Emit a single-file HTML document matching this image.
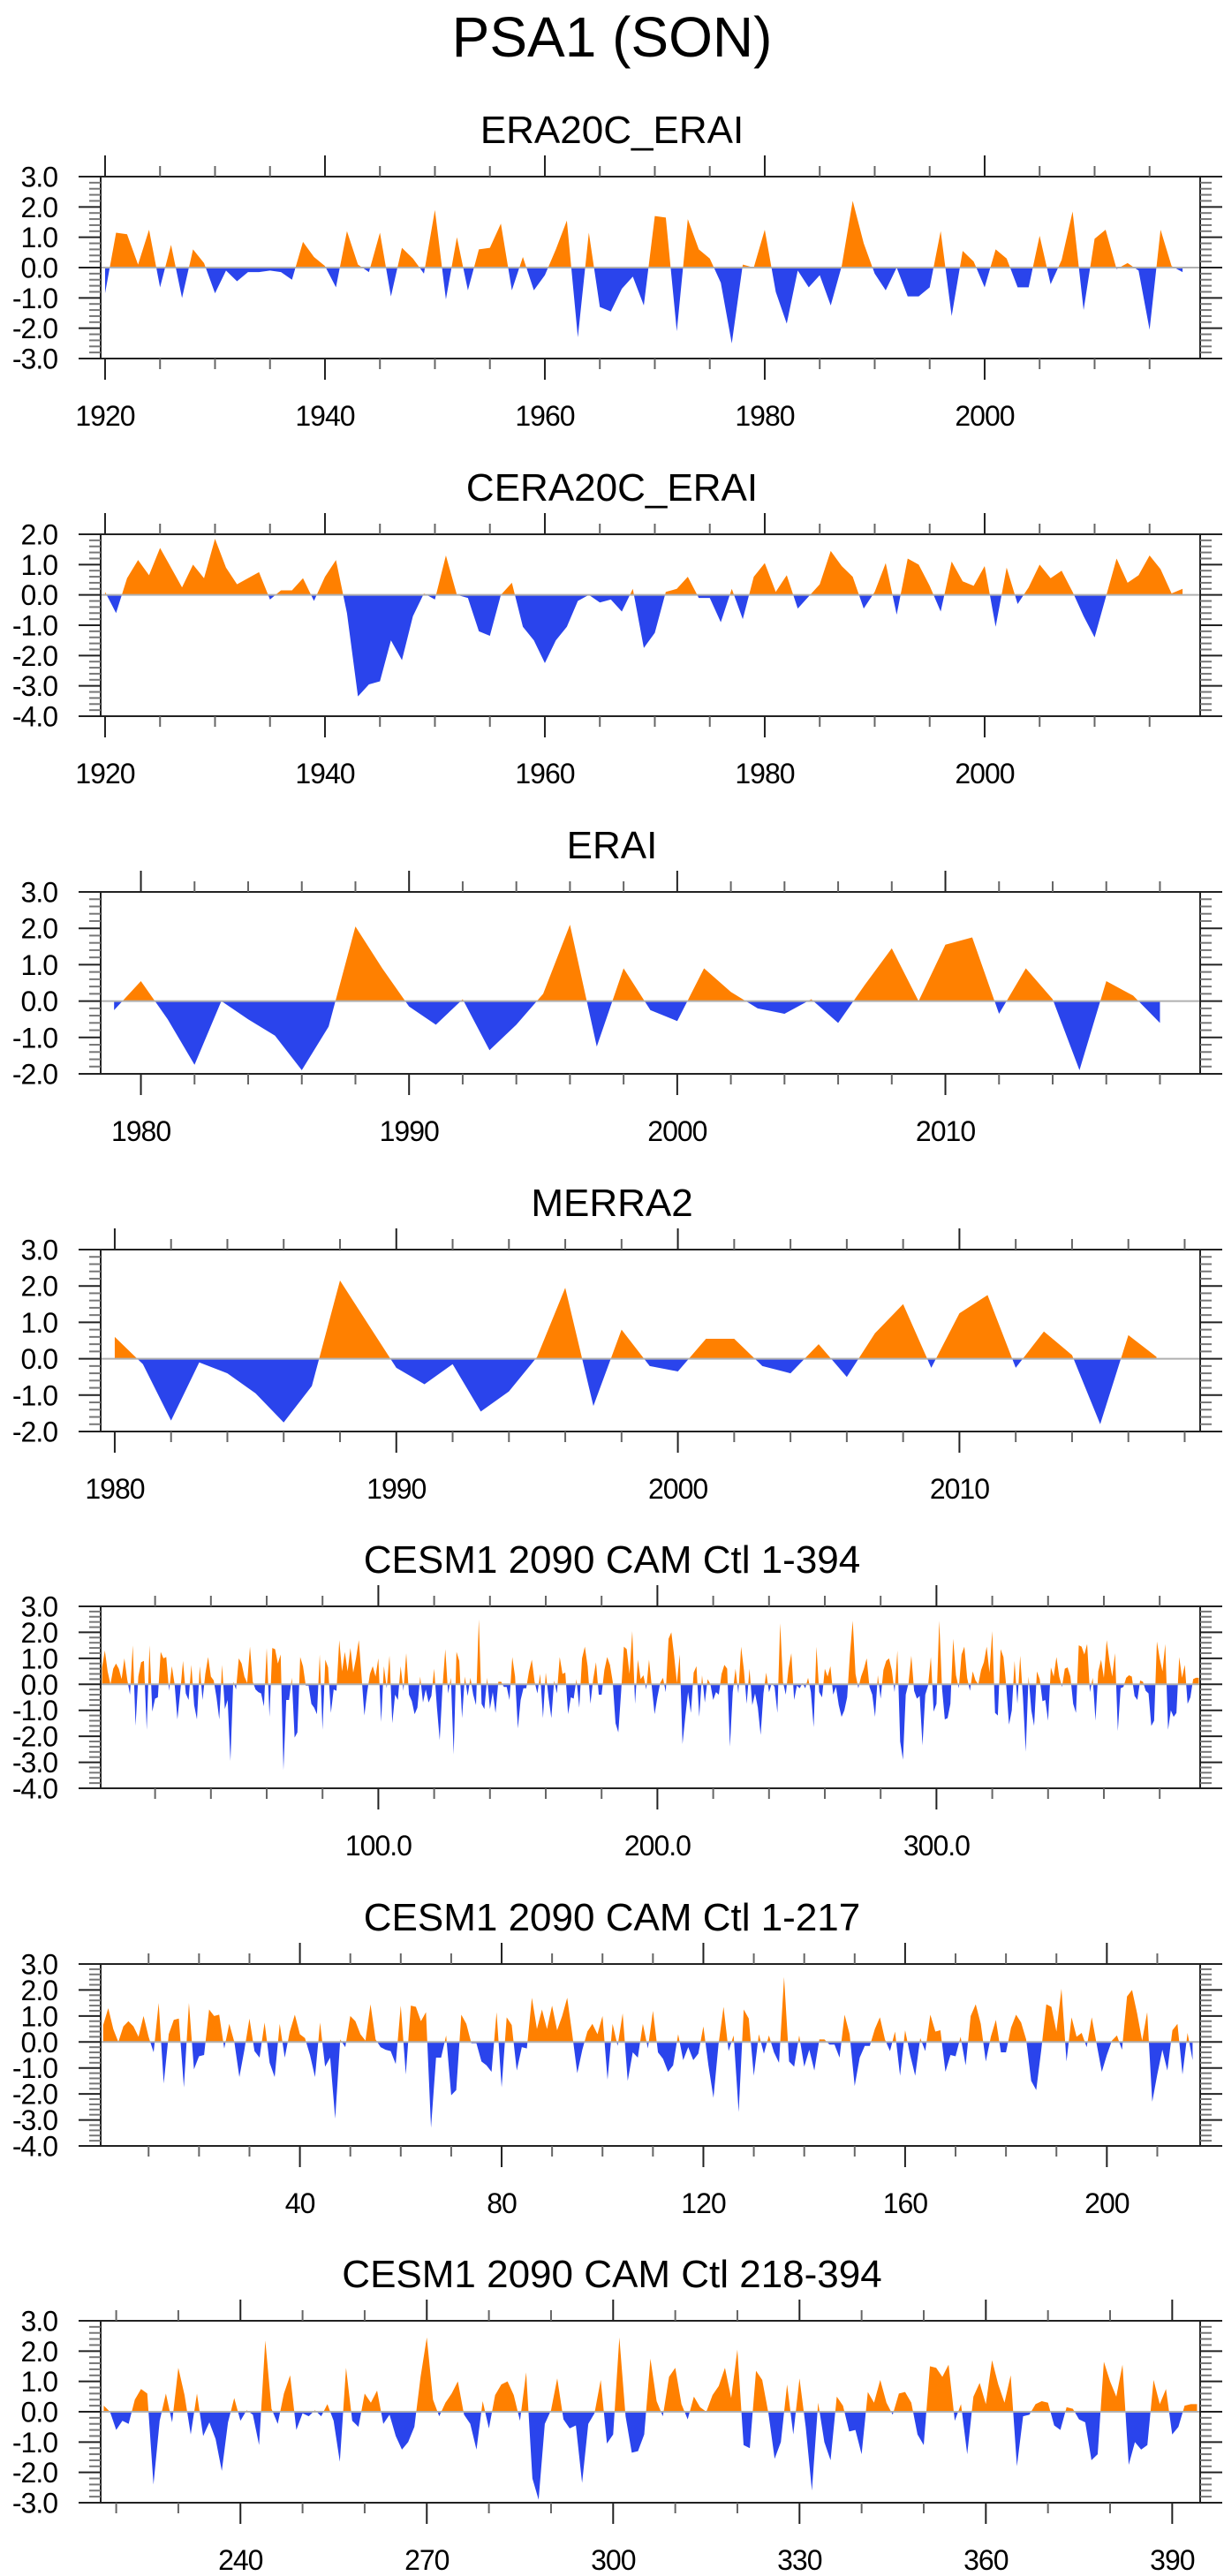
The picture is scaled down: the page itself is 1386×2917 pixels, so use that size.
<!DOCTYPE html>
<html><head><meta charset="utf-8"><title>PSA1 (SON)</title>
<style>html,body{margin:0;padding:0;background:#fff}svg{display:block}text{font-family:"Liberation Sans",sans-serif;fill:#000}</style>
</head><body>
<svg id="fig" width="1386" height="2917" viewBox="0 0 1386 2917" xmlns="http://www.w3.org/2000/svg">
<text x="693" y="64" text-anchor="middle" font-size="64">PSA1 (SON)</text>
</svg>
<script>
// ---- data ----
const era20cVals = [-0.85,1.15,1.1,0.1,1.25,-0.65,0.75,-1.0,0.6,0.15,
-0.85,-0.1,-0.45,-0.15,-0.15,-0.1,-0.15,-0.4,0.85,0.35,
0.05,-0.65,1.2,0.1,-0.15,1.15,-0.95,0.65,0.3,-0.2,
1.9,-1.05,1.0,-0.75,0.6,0.65,1.45,-0.75,0.35,-0.75,
-0.25,0.6,1.55,-2.3,1.15,-1.3,-1.45,-0.7,-0.3,-1.25,
1.7,1.65,-2.1,1.6,0.6,0.3,-0.5,-2.5,0.1,0.0,
1.25,-0.8,-1.85,-0.1,-0.65,-0.25,-1.25,0.05,2.2,0.8,
-0.2,-0.75,0.0,-0.95,-0.95,-0.65,1.2,-1.6,0.55,0.2,
-0.65,0.6,0.3,-0.65,-0.65,1.05,-0.55,0.25,1.85,-1.4,
0.95,1.25,-0.05,0.15,-0.1,-2.05,1.25,0.05,-0.15];
const cera20cVals = [0.1,-0.6,0.55,1.15,0.65,1.55,0.9,0.25,1.0,0.55,
1.85,0.9,0.35,0.55,0.75,-0.15,0.15,0.15,0.55,-0.2,
0.6,1.15,-0.6,-3.35,-2.95,-2.85,-1.5,-2.15,-0.7,0.05,
-0.15,1.3,0.0,-0.1,-1.2,-1.35,0.0,0.4,-1.05,-1.5,
-2.25,-1.5,-1.05,-0.2,0.0,-0.25,-0.15,-0.55,0.2,-1.75,
-1.25,0.1,0.2,0.6,-0.1,-0.1,-0.9,0.2,-0.8,0.6,
1.05,0.1,0.65,-0.45,-0.05,0.35,1.45,0.95,0.6,-0.45,
0.1,1.05,-0.65,1.2,1.0,0.3,-0.55,1.1,0.45,0.3,
0.95,-1.05,0.9,-0.3,0.25,1.0,0.55,0.8,0.1,-0.7,
-1.4,-0.1,1.2,0.4,0.65,1.3,0.85,0.05,0.2];
const eraiStart = 1979;
const eraiVals = [-0.25,0.55,-0.5,-1.75,0.0,-0.5,-0.95,-1.9,-0.7,2.05,
0.9,-0.15,-0.65,0.05,-1.35,-0.65,0.2,2.1,-1.25,0.9,
-0.25,-0.55,0.9,0.25,-0.2,-0.35,0.05,-0.6,0.45,1.45,
0.0,1.55,1.75,-0.35,0.9,0.05,-1.9,0.55,0.15,-0.6];
const merraStart = 1980;
const merraVals = [0.6,-0.15,-1.7,-0.1,-0.4,-0.95,-1.75,-0.75,2.15,0.95,
-0.25,-0.7,-0.15,-1.45,-0.9,0.05,1.95,-1.3,0.8,-0.2,
-0.35,0.55,0.55,-0.2,-0.4,0.4,-0.5,0.7,1.5,-0.25,
1.25,1.75,-0.25,0.75,0.1,-1.8,0.65,0.05];
const cesmA = [0.65,1.3,0.5,0.0,0.6,0.8,0.6,0.2,1.0,0.2,
-0.4,1.5,-1.6,0.3,0.85,0.9,-1.75,1.5,-1.05,-0.55,
-0.5,1.25,1.0,1.05,-0.25,0.7,0.0,-1.35,-0.3,0.9,
-0.35,-0.6,0.75,-0.8,-1.35,0.7,-0.6,0.4,1.05,0.3,
0.15,-0.5,-1.35,0.75,-0.95,-0.6,-2.95,0.1,-0.2,1.0,
0.8,0.3,0.05,1.45,0.1,-0.2,-0.3,-0.35,-0.85,1.4,
-1.25,1.4,1.35,0.8,1.15,-3.3,-0.6,-0.6,0.25,-2.05,
-1.85,1.05,0.7,-0.05,-0.05,-0.75,-0.9,-1.15,1.15,-1.75,
0.95,0.65,-1.1,-0.2,-0.25,1.7,0.5,1.25,0.5,1.4,
0.45,1.0,1.7,0.3,-1.2,-0.3,0.4,0.7,0.3,1.0,
-1.45,0.7,-0.15,1.1,-1.5,-0.4,-0.6,0.7,-0.25,1.2,
-0.4,-0.65,-1.15,-0.9,0.3,-0.7,-0.2,-0.7,-0.45,0.6,
-0.9,-2.15,-0.1,1.35,-0.35,0.25,-2.7,1.25,0.9,-1.3,
0.3,-0.45,0.25,-0.4,-0.8,2.5,-0.75,-0.95,0.25,-0.95,
-0.3,-1.1,0.1,0.1,-0.1,-0.1,-0.6,1.05,0.3,-1.7,
-0.6,-0.15,-0.15,0.5,0.95,0.1,-0.35,0.4,-1.3,0.45,
-0.5,-1.3,0.15,-0.35,1.05,0.4,0.45,-1.15,-0.5,-0.55,
0.2,-0.9,1.0,1.45,0.7,-0.75,0.2,0.85,-0.4,-0.4,
0.55,1.05,0.75,0.1,-1.5,-1.85,-0.3,1.45,1.35,0.4,
2.05,-0.75,0.95,0.2,0.35,-0.2,0.95,-0.1,-1.15,-0.5,
0.05,0.25,-0.3,1.75,2.0,1.1,0.05,1.15,-2.3,-1.25,
-0.3,-1.1,0.45,0.7,-1.25,0.35,-0.7];
const cesmB = [0.2,0.0,-0.6,-0.3,-0.4,0.4,0.75,0.6,-2.4,-0.3,
0.6,-0.35,1.45,0.55,-0.75,0.6,-0.8,-0.35,-0.9,-1.95,
-0.35,0.45,-0.3,0.05,-0.1,-1.1,2.35,0.1,-0.4,0.6,
1.2,-0.6,-0.05,-0.15,0.05,-0.15,0.25,-0.3,-1.65,1.45,
-0.3,-0.5,0.6,0.3,0.7,-0.4,-0.1,-0.8,-1.25,-1.0,
-0.5,1.15,2.45,0.4,-0.15,0.3,0.6,1.0,-0.1,-0.4,
-1.25,0.35,-0.55,0.55,0.9,1.0,0.55,-0.3,1.3,-2.2,
-2.9,-0.4,0.05,1.1,-0.25,-0.55,-0.45,-2.35,-0.4,-0.05,
1.05,-1.05,-0.75,2.45,-0.15,-1.35,-1.3,-0.75,1.75,0.35,
-0.15,1.15,1.45,0.25,-0.25,0.5,0.15,0.0,0.55,0.85,
1.45,0.45,2.05,-1.1,-1.2,1.35,1.05,-0.05,-1.55,-1.0,
0.9,-0.75,1.1,-0.5,-2.6,0.3,-1.0,-1.6,0.5,0.2,
-0.65,-0.6,-1.4,0.65,0.3,1.05,0.3,-0.1,0.6,0.65,
0.3,-0.75,-1.1,1.5,1.45,1.15,1.55,-0.3,0.25,-1.4,
0.5,0.95,0.25,1.7,0.9,0.3,1.2,-1.8,-0.15,-0.1,
0.25,0.35,0.3,-0.45,-0.6,0.15,0.1,-0.25,-0.35,-1.6,
-1.4,1.65,1.0,0.5,1.55,-1.75,-1.0,-1.25,-1.1,1.05,
0.25,0.75,-0.75,-0.5,0.2,0.25,0.25];
const panelTitles = ["ERA20C_ERAI","CERA20C_ERAI","ERAI","MERRA2","CESM1 2090 CAM Ctl 1-394","CESM1 2090 CAM Ctl 1-217","CESM1 2090 CAM Ctl 218-394"];
const xTickLabels1 = ["1920","1940","1960","1980","2000"];
const xTickLabels3 = ["1980","1990","2000","2010"];
const xTickLabels5 = ["100.0","200.0","300.0"];
const xTickLabels6 = ["40","80","120","160","200"];
const xTickLabels7 = ["240","270","300","330","360","390"];

// ---- drawing ----
const NS = "http://www.w3.org/2000/svg";
const svg = document.getElementById("fig");
const L = 114, R = 1359, H = 206;
function mk(tag, attrs, parent){ const e=document.createElementNS(NS,tag); for(const k in attrs) e.setAttribute(k,attrs[k]); (parent||svg).appendChild(e); return e; }
function seq(a,b){ const r=[]; for(let i=a;i<=b;i++) r.push(i); return r; }
const allCesm = cesmA.concat(cesmB);

const panels = [
 {top:200, xmin:1919.6, xmax:2019.6, ymin:-3, ymax:3, xs:seq(1920,1920+era20cVals.length-1), ys:era20cVals, maj:[1920,1940,1960,1980,2000], minStep:5, labels:xTickLabels1, name:"era20c-erai"},
 {top:605, xmin:1919.6, xmax:2019.6, ymin:-4, ymax:2, xs:seq(1920,1920+cera20cVals.length-1), ys:cera20cVals, maj:[1920,1940,1960,1980,2000], minStep:5, labels:xTickLabels1, name:"cera20c-erai"},
 {top:1010, xmin:1978.5, xmax:2019.5, ymin:-2, ymax:3, xs:seq(eraiStart,eraiStart+eraiVals.length-1), ys:eraiVals, maj:[1980,1990,2000,2010], minStep:2, labels:xTickLabels3, name:"erai"},
 {top:1415, xmin:1979.5, xmax:2018.55, ymin:-2, ymax:3, xs:seq(merraStart,merraStart+merraVals.length-1), ys:merraVals, maj:[1980,1990,2000,2010], minStep:2, labels:xTickLabels3, name:"merra2"},
 {top:1819, xmin:0.5, xmax:394.5, ymin:-4, ymax:3, xs:seq(1,allCesm.length), ys:allCesm, maj:[100,200,300], minStep:20, labels:xTickLabels5, name:"cesm-1-394"},
 {top:2224, xmin:0.5, xmax:218.5, ymin:-4, ymax:3, xs:seq(1,cesmA.length), ys:cesmA, maj:[40,80,120,160,200], minStep:10, labels:xTickLabels6, name:"cesm-1-217"},
 {top:2628, xmin:217.5, xmax:394.5, ymin:-3, ymax:3, xs:seq(218,217+cesmB.length), ys:cesmB, maj:[240,270,300,330,360,390], minStep:10, labels:xTickLabels7, name:"cesm-218-394"}
];

panels.forEach((p,pi)=>{
  const g = mk("g",{});
  
  
  const top=p.top, bot=top+H;
  const sx = x => L + (x-p.xmin)/(p.xmax-p.xmin)*(R-L);
  const sy = v => top + (p.ymax-v)/(p.ymax-p.ymin)*H;
  const t = mk("text",{x:693,y:top-38,"text-anchor":"middle","font-size":44},g);
  t.textContent = panelTitles[pi];
  
  
  const y0 = sy(0);
  let d = "M"+sx(p.xs[0]).toFixed(2)+","+y0.toFixed(2);
  for(let i=0;i<p.xs.length;i++) d += " L"+sx(p.xs[i]).toFixed(2)+","+sy(p.ys[i]).toFixed(2);
  d += " L"+sx(p.xs[p.xs.length-1]).toFixed(2)+","+y0.toFixed(2)+" Z";
  const cidA="ca"+pi, cidB="cb"+pi;
  const defs = mk("defs",{},g);
  const c1 = mk("clipPath",{id:cidA},defs); mk("rect",{x:L,y:top,width:R-L,height:y0-top},c1);
  const c2 = mk("clipPath",{id:cidB},defs); mk("rect",{x:L,y:y0,width:R-L,height:bot-y0},c2);
  const pos = mk("path",{d:d,fill:"#ff8000","clip-path":"url(#"+cidA+")"},g);
  
  
  const neg = mk("path",{d:d,fill:"#2a44ec","clip-path":"url(#"+cidB+")"},g);
  
  
  const zl = mk("line",{x1:L,x2:R,y1:y0,y2:y0,stroke:"#b0b0b0","stroke-width":2},g);
  
  
  const fr = mk("rect",{x:L,y:top,width:R-L,height:H,fill:"none",stroke:"#222","stroke-width":2},g);
  
  
  const start = Math.ceil(p.xmin/p.minStep)*p.minStep;
  for(let x=start;x<=p.xmax;x+=p.minStep){
    const isMaj = p.maj.indexOf(x)>=0, len = isMaj?24:12, X=sx(x);
    mk("line",{x1:X,x2:X,y1:top-len,y2:top,stroke:isMaj?"#222":"#666","stroke-width":2},g);
    mk("line",{x1:X,x2:X,y1:bot,y2:bot+len,stroke:isMaj?"#222":"#666","stroke-width":2},g);
  }
  p.maj.forEach((x,k)=>{
    const lt = mk("text",{x:sx(x),y:bot+76,"text-anchor":"middle","font-size":32,"letter-spacing":"-1"},g);
    lt.textContent = p.labels[k];
    
    
  });
  for(let k=Math.round(p.ymin*5);k<=Math.round(p.ymax*5);k++){
    const v=k/5, Y=sy(v), isMaj = (k%5===0), len=isMaj?25:13;
    mk("line",{x1:L-len,x2:L,y1:Y,y2:Y,stroke:isMaj?"#222":"#777","stroke-width":2},g);
    mk("line",{x1:R,x2:R+len,y1:Y,y2:Y,stroke:isMaj?"#222":"#777","stroke-width":2},g);
    if(isMaj){
      const yl = mk("text",{x:65,y:Y+11.5,"text-anchor":"end","font-size":32,"letter-spacing":"-1"},g);
      yl.textContent = v.toFixed(1);
      
      
    }
  }
});
</script>
</body></html>
